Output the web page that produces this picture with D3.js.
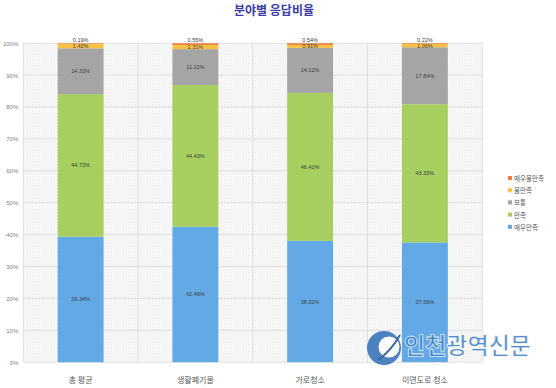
<!DOCTYPE html>
<html><head><meta charset="utf-8">
<script src="https://cdn.jsdelivr.net/npm/d3@7"></script>
<style>body{margin:0;background:#fff;}svg{display:block;font-family:"Noto Sans CJK KR","Noto Sans",sans-serif;}</style>
</head><body><svg id="c" width="556" height="388"></svg>
<script>
const categories = ["총 평균", "생활폐기물", "가로청소", "이면도로 청소"];
const seriesNames = ["매우만족", "만족", "보통", "불만족", "매우불만족"];
const veryGood = [39.34, 42.49, 38.02, 37.56];
const good = [44.72, 44.43, 46.41, 43.32];
const normal = [14.33, 11.22, 14.12, 17.84];
const bad = [1.42, 1.31, 0.91, 1.06];
const veryBad = [0.19, 0.55, 0.54, 0.22];
const yTicks = [0, 10, 20, 30, 40, 50, 60, 70, 80, 90, 100];
const colors = ["#62a9e6", "#a6cf5f", "#a5a5a5", "#f7c244", "#e8803e"];

(function () {
const svg = d3.select("#c");
const pL = 23.25, pR = 482.25, pT = 43.2, pB = 362.2;
const x = d3.scaleBand().domain(categories).range([pL, pR]).paddingInner(0.6).paddingOuter(0.3);
const xb = d3.scaleBand().domain(categories).range([pL, pR]);
const y = d3.scaleLinear().domain([0, 100]).range([pB, pT]);

const defs = svg.append("defs");
const pat = defs.append("pattern").attr("id", "hatch").attr("patternUnits", "userSpaceOnUse").attr("width", 3).attr("height", 3);
pat.append("rect").attr("width", 3).attr("height", 3).attr("fill", "#fbfbfb");
pat.append("path").attr("d", "M0,3 L3,0 M0,0 L3,3").attr("stroke", "#ececec").attr("stroke-width", 0.6);

svg.append("rect").attr("x", pL).attr("y", pT).attr("width", pR - pL).attr("height", pB - pT).attr("fill", "url(#hatch)");

svg.append("text").attr("x", 274).attr("y", 15).attr("text-anchor", "middle")
  .attr("font-size", 12).attr("font-weight", "bold").attr("fill", "#3b3aa6").text("분야별 응답비율");

svg.append("g").selectAll("line").data(yTicks).join("line")
  .attr("x1", pL).attr("x2", pR).attr("y1", d => y(d)).attr("y2", d => y(d))
  .attr("stroke", "#d9d9d9").attr("stroke-width", 0.8);
const vlines = categories.map(c => xb(c)).concat([pR]);
svg.append("g").selectAll("line").data(vlines).join("line")
  .attr("x1", d => d).attr("x2", d => d).attr("y1", pT).attr("y2", pB)
  .attr("stroke", "#d9d9d9").attr("stroke-width", 0.8);

const yAxis = d3.axisLeft(y).tickValues(yTicks).tickFormat(d => d + "%").tickSize(0).tickPadding(5);
const ya = svg.append("g").attr("transform", `translate(${pL},0)`).call(yAxis);
ya.select(".domain").remove();
ya.selectAll("text").attr("font-size", 6).attr("fill", "#7f7f7f").attr("font-family", "'Liberation Sans',sans-serif");

const xAxis = d3.axisBottom(xb).tickSize(0).tickPadding(15);
const xa = svg.append("g").attr("transform", `translate(0,${pB})`).call(xAxis);
xa.select(".domain").remove();
xa.selectAll("text").attr("font-size", 8).attr("fill", "#595959").attr("font-family", "'Noto Sans CJK KR',sans-serif");

const rows = categories.map((c, i) => ({cat: c, "매우만족": veryGood[i], "만족": good[i], "보통": normal[i], "불만족": bad[i], "매우불만족": veryBad[i]}));
const stack = d3.stack().keys(seriesNames)(rows);
const g = svg.append("g");
stack.forEach((s, si) => {
  g.selectAll(null).data(s).join("rect")
    .attr("x", d => x(d.data.cat)).attr("width", x.bandwidth())
    .attr("y", d => y(d[1])).attr("height", d => y(d[0]) - y(d[1]))
    .attr("fill", colors[si]);
});
stack.forEach((s, si) => {
  g.selectAll(null).data(s).join("text")
    .attr("x", d => x(d.data.cat) + x.bandwidth() / 2)
    .attr("y", d => si === 4 ? y(d[1]) - 1.5 : (y(d[0]) + y(d[1])) / 2 + 2)
    .attr("text-anchor", "middle").attr("font-size", 5.5).attr("fill", "#404040")
    .attr("font-family", "'Liberation Sans',sans-serif")
    .text(d => (d[1] - d[0]).toFixed(2) + "%");
});

const leg = svg.append("g");
const legOrder = seriesNames.map((n, i) => ({n, c: colors[i]})).reverse();
leg.selectAll("rect").data(legOrder).join("rect")
  .attr("x", 508).attr("y", (d, i) => 176 + i * 12.2).attr("width", 4).attr("height", 4).attr("fill", d => d.c);
leg.selectAll("text").data(legOrder).join("text")
  .attr("x", 514).attr("y", (d, i) => 181 + i * 12.2).attr("font-size", 6.5).attr("fill", "#595959").text(d => d.n);

const wm = svg.append("g").attr("opacity", 0.85);
wm.append("circle").attr("cx", 384).attr("cy", 348).attr("r", 17).attr("fill", "#2e6fb6");
wm.append("circle").attr("cx", 389).attr("cy", 347).attr("r", 10.5).attr("fill", "#fff");
wm.append("path").attr("d", "M378,360 Q391,351 400,335").attr("stroke", "#1b4f8a").attr("stroke-width", 2).attr("fill", "none");
wm.append("text").attr("x", 404).attr("y", 354).attr("font-size", 23).attr("font-weight", "bold")
  .attr("fill", "#3b7dc4").attr("stroke", "#fff").attr("stroke-width", 0.8).text("인천광역신문");
wm.append("text").attr("x", 410).attr("y", 367).attr("font-size", 6.5).attr("fill", "#fff")
  .attr("font-family", "'Liberation Sans',sans-serif").text("Incheon Metropolitan newspaper");
})();
</script></body></html>
